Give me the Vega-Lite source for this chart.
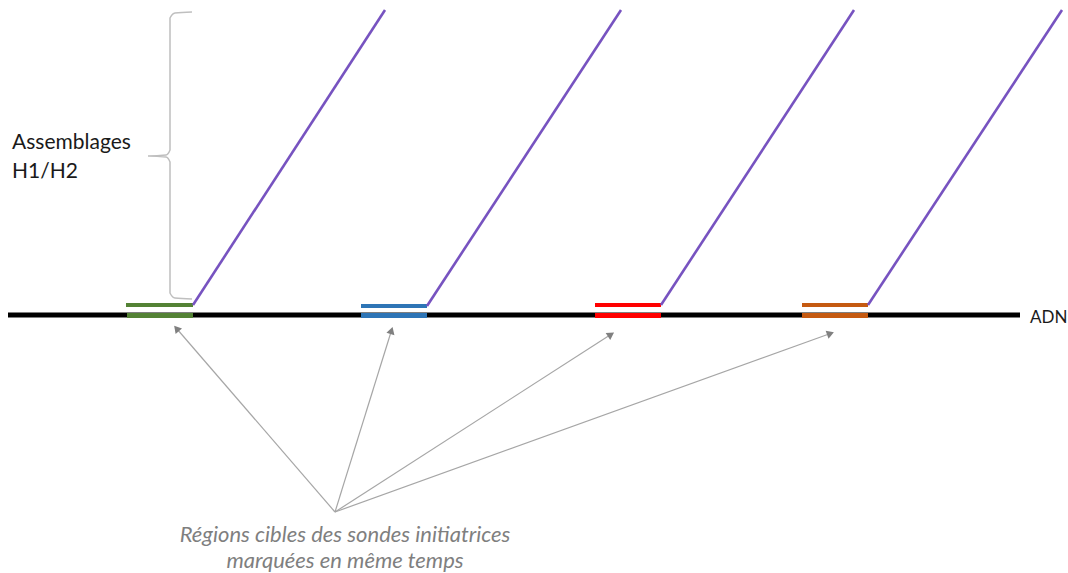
{
  "$schema": "https://vega.github.io/schema/vega-lite/v6.json",
  "width": 1068,
  "height": 573,
  "padding": 0,
  "autosize": {"type": "fit", "contains": "padding"},
  "background": "white",
  "config": {"view": {"stroke": null}},
  "layer": [
    {
      "data": {"values": [{"x": 8, "x2": 1020, "y": 315}]},
      "mark": {"type": "rule", "color": "black", "strokeWidth": 5},
      "encoding": {
        "x": {"field": "x", "type": "quantitative", "scale": {"domain": [0, 1068]}, "axis": null},
        "x2": {"field": "x2"},
        "y": {"field": "y", "type": "quantitative", "scale": {"domain": [0, 573], "reverse": true}, "axis": null}
      }
    },
    {
      "data": {"values": [
        {"probe": "p1", "x": 126, "x2": 193, "y": 305},
        {"probe": "p2", "x": 361, "x2": 427, "y": 306},
        {"probe": "p3", "x": 595, "x2": 661, "y": 305},
        {"probe": "p4", "x": 802, "x2": 868, "y": 305}
      ]},
      "mark": {"type": "rule", "strokeWidth": 4},
      "encoding": {
        "x": {"field": "x", "type": "quantitative", "scale": {"domain": [0, 1068]}, "axis": null},
        "x2": {"field": "x2"},
        "y": {"field": "y", "type": "quantitative", "scale": {"domain": [0, 573], "reverse": true}, "axis": null},
        "color": {"field": "probe", "type": "nominal", "scale": {"domain": ["p1", "p2", "p3", "p4"], "range": ["#548235", "#2E75B6", "#FF0000", "#C55A11"]}, "legend": null}
      }
    },
    {
      "data": {"values": [
        {"probe": "p1", "x": 127, "x2": 193, "y": 315.5},
        {"probe": "p2", "x": 361, "x2": 427, "y": 315.5},
        {"probe": "p3", "x": 595, "x2": 661, "y": 315.5},
        {"probe": "p4", "x": 802, "x2": 868, "y": 315.5}
      ]},
      "mark": {"type": "rule", "strokeWidth": 5},
      "encoding": {
        "x": {"field": "x", "type": "quantitative", "scale": {"domain": [0, 1068]}, "axis": null},
        "x2": {"field": "x2"},
        "y": {"field": "y", "type": "quantitative", "scale": {"domain": [0, 573], "reverse": true}, "axis": null},
        "color": {"field": "probe", "type": "nominal", "legend": null}
      }
    },
    {
      "data": {"values": [
        {"x": 193, "y": 305, "x2": 385, "y2": 10},
        {"x": 427, "y": 306, "x2": 621, "y2": 10},
        {"x": 661, "y": 305, "x2": 854, "y2": 10},
        {"x": 868, "y": 305, "x2": 1062, "y2": 10}
      ]},
      "mark": {"type": "rule", "color": "#7753C0", "strokeWidth": 2.6},
      "encoding": {
        "x": {"field": "x", "type": "quantitative", "scale": {"domain": [0, 1068]}, "axis": null},
        "x2": {"field": "x2"},
        "y": {"field": "y", "type": "quantitative", "scale": {"domain": [0, 573], "reverse": true}, "axis": null},
        "y2": {"field": "y2"}
      }
    },
    {
      "data": {"values": [
        {"o": 1, "x": 192, "y": 12},
        {"o": 2, "x": 175, "y": 13},
        {"o": 3, "x": 170, "y": 18},
        {"o": 4, "x": 170, "y": 150},
        {"o": 5, "x": 166, "y": 155},
        {"o": 6, "x": 148, "y": 156},
        {"o": 7, "x": 166, "y": 157},
        {"o": 8, "x": 170, "y": 162},
        {"o": 9, "x": 170, "y": 293},
        {"o": 10, "x": 175, "y": 298},
        {"o": 11, "x": 192, "y": 299}
      ]},
      "mark": {"type": "line", "color": "#BFBFBF", "strokeWidth": 1.5, "interpolate": "monotone"},
      "encoding": {
        "x": {"field": "x", "type": "quantitative", "scale": {"domain": [0, 1068]}, "axis": null},
        "y": {"field": "y", "type": "quantitative", "scale": {"domain": [0, 573], "reverse": true}, "axis": null},
        "order": {"field": "o", "type": "quantitative"}
      }
    },
    {
      "data": {"values": [
        {"x": 335, "y": 512, "x2": 177, "y2": 329},
        {"x": 335, "y": 512, "x2": 391, "y2": 332},
        {"x": 335, "y": 512, "x2": 610, "y2": 335},
        {"x": 335, "y": 512, "x2": 829, "y2": 334}
      ]},
      "mark": {"type": "rule", "color": "#A6A6A6", "strokeWidth": 1.2},
      "encoding": {
        "x": {"field": "x", "type": "quantitative", "scale": {"domain": [0, 1068]}, "axis": null},
        "x2": {"field": "x2"},
        "y": {"field": "y", "type": "quantitative", "scale": {"domain": [0, 573], "reverse": true}, "axis": null},
        "y2": {"field": "y2"}
      }
    },
    {
      "data": {"values": [
        {"x": 176.5, "y": 328.5, "a": 320},
        {"x": 391.5, "y": 330.5, "a": 17},
        {"x": 611, "y": 334.5, "a": 57},
        {"x": 830.5, "y": 333.5, "a": 70}
      ]},
      "mark": {"type": "point", "shape": "triangle-up", "filled": true, "color": "#808080", "size": 70, "opacity": 1},
      "encoding": {
        "x": {"field": "x", "type": "quantitative", "scale": {"domain": [0, 1068]}, "axis": null},
        "y": {"field": "y", "type": "quantitative", "scale": {"domain": [0, 573], "reverse": true}, "axis": null},
        "angle": {"field": "a", "type": "quantitative", "scale": null}
      }
    },
    {
      "data": {"values": [
        {"t": "Assemblages", "x": 12, "y": 143},
        {"t": "H1/H2", "x": 12, "y": 172}
      ]},
      "mark": {"type": "text", "align": "left", "baseline": "middle", "font": "Lato", "fontSize": 21, "color": "#1a1a1a"},
      "encoding": {
        "x": {"field": "x", "type": "quantitative", "scale": {"domain": [0, 1068]}, "axis": null},
        "y": {"field": "y", "type": "quantitative", "scale": {"domain": [0, 573], "reverse": true}, "axis": null},
        "text": {"field": "t"}
      }
    },
    {
      "data": {"values": [{"t": "ADN", "x": 1030, "y": 318}]},
      "mark": {"type": "text", "align": "left", "baseline": "middle", "font": "Lato", "fontSize": 17, "color": "#1a1a1a"},
      "encoding": {
        "x": {"field": "x", "type": "quantitative", "scale": {"domain": [0, 1068]}, "axis": null},
        "y": {"field": "y", "type": "quantitative", "scale": {"domain": [0, 573], "reverse": true}, "axis": null},
        "text": {"field": "t"}
      }
    },
    {
      "data": {"values": [
        {"t": "Régions cibles des sondes initiatrices", "x": 345, "y": 535},
        {"t": "marquées en même temps", "x": 345, "y": 561}
      ]},
      "mark": {"type": "text", "align": "center", "baseline": "middle", "font": "Lato", "fontSize": 22, "fontStyle": "italic", "color": "#7F7F7F"},
      "encoding": {
        "x": {"field": "x", "type": "quantitative", "scale": {"domain": [0, 1068]}, "axis": null},
        "y": {"field": "y", "type": "quantitative", "scale": {"domain": [0, 573], "reverse": true}, "axis": null},
        "text": {"field": "t"}
      }
    }
  ]
}
